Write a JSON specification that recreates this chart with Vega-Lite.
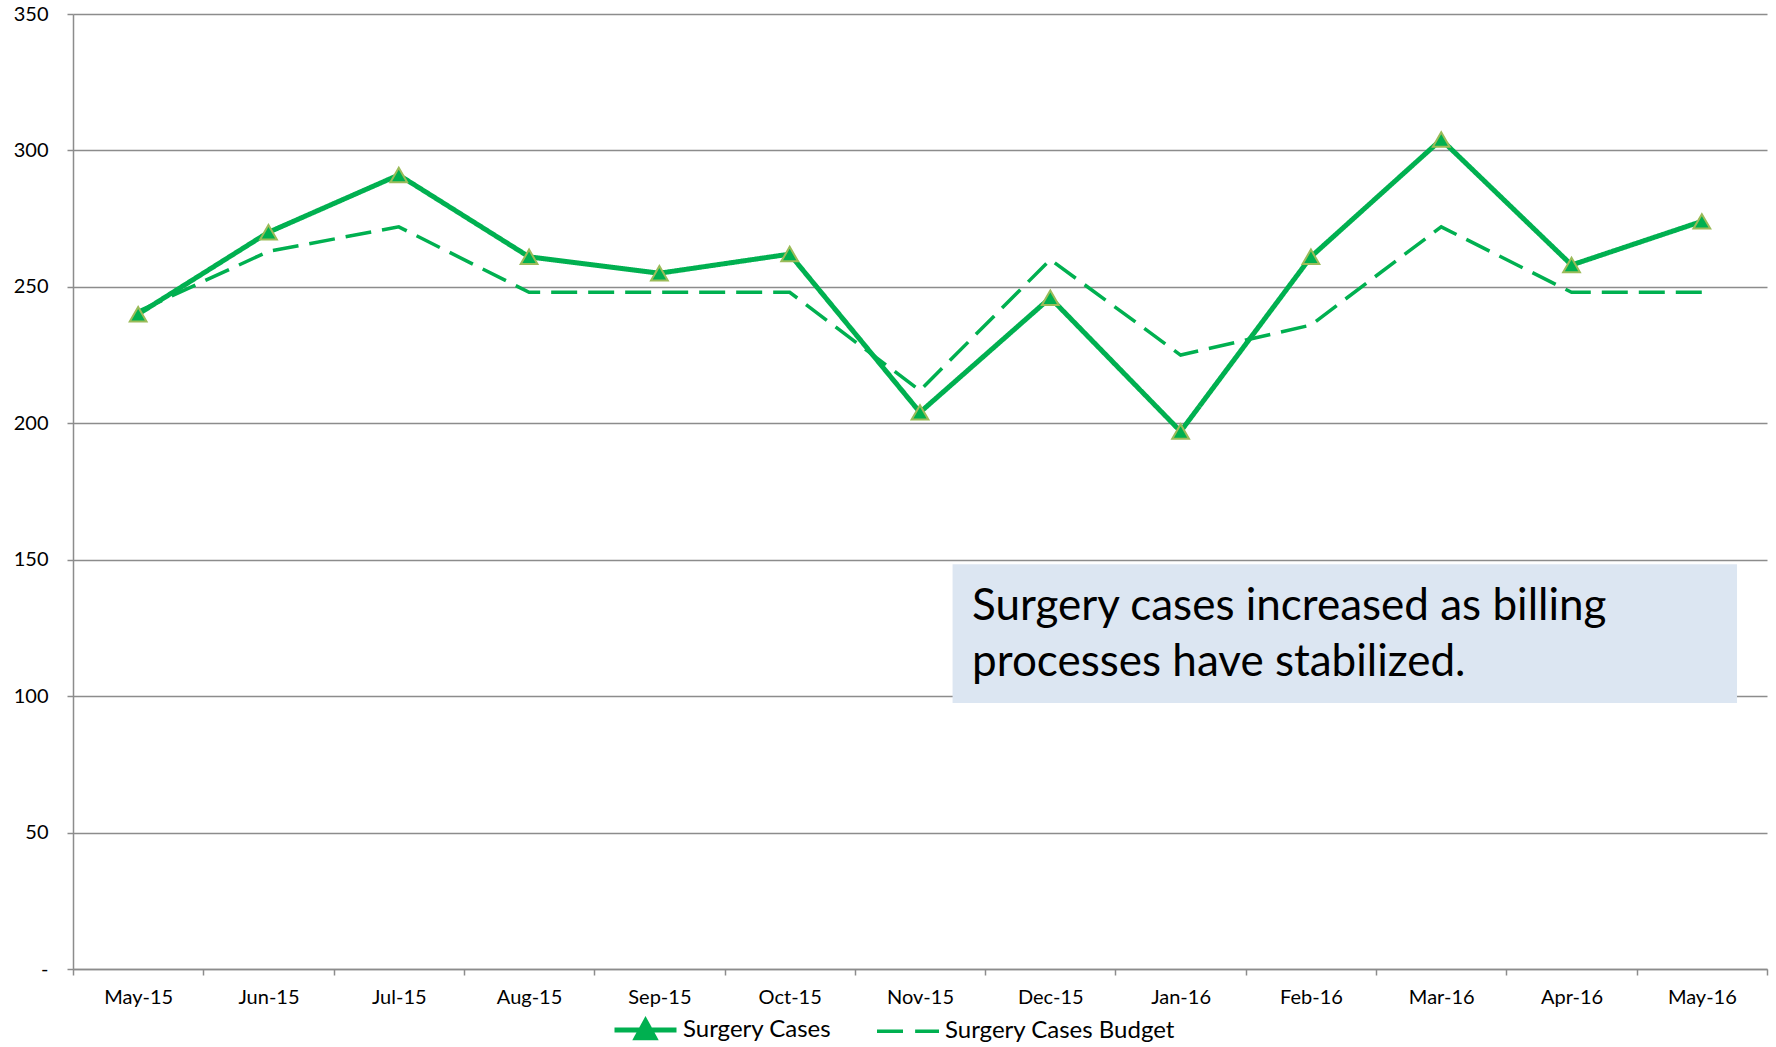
{
  "$schema": "https://vega.github.io/schema/vega-lite/v6.json",
  "width": 1694,
  "height": 955,
  "autosize": "none",
  "padding": {"left": 73, "top": 14, "right": 9, "bottom": 78},
  "background": "white",
  "config": {
    "view": {"stroke": null},
    "font": "Lato",
    "axis": {"labelFont": "Lato", "labelColor": "#000000", "domainColor": "#8c8c8c", "tickColor": "#8c8c8c", "gridColor": "#8c8c8c"}
  },
  "datasets": {
    "series": [
      {"month": "May-15", "series": "Surgery Cases", "value": 240},
      {"month": "Jun-15", "series": "Surgery Cases", "value": 270},
      {"month": "Jul-15", "series": "Surgery Cases", "value": 291},
      {"month": "Aug-15", "series": "Surgery Cases", "value": 261},
      {"month": "Sep-15", "series": "Surgery Cases", "value": 255},
      {"month": "Oct-15", "series": "Surgery Cases", "value": 262},
      {"month": "Nov-15", "series": "Surgery Cases", "value": 204},
      {"month": "Dec-15", "series": "Surgery Cases", "value": 246},
      {"month": "Jan-16", "series": "Surgery Cases", "value": 197},
      {"month": "Feb-16", "series": "Surgery Cases", "value": 261},
      {"month": "Mar-16", "series": "Surgery Cases", "value": 304},
      {"month": "Apr-16", "series": "Surgery Cases", "value": 258},
      {"month": "May-16", "series": "Surgery Cases", "value": 274},
      {"month": "May-15", "series": "Surgery Cases Budget", "value": 241},
      {"month": "Jun-15", "series": "Surgery Cases Budget", "value": 263},
      {"month": "Jul-15", "series": "Surgery Cases Budget", "value": 272},
      {"month": "Aug-15", "series": "Surgery Cases Budget", "value": 248},
      {"month": "Sep-15", "series": "Surgery Cases Budget", "value": 248},
      {"month": "Oct-15", "series": "Surgery Cases Budget", "value": 248},
      {"month": "Nov-15", "series": "Surgery Cases Budget", "value": 212},
      {"month": "Dec-15", "series": "Surgery Cases Budget", "value": 260},
      {"month": "Jan-16", "series": "Surgery Cases Budget", "value": 225},
      {"month": "Feb-16", "series": "Surgery Cases Budget", "value": 236},
      {"month": "Mar-16", "series": "Surgery Cases Budget", "value": 272},
      {"month": "Apr-16", "series": "Surgery Cases Budget", "value": 248},
      {"month": "May-16", "series": "Surgery Cases Budget", "value": 248}
    ],
    "box": [{"x1": 6.75, "x2": 12.77, "y1": 97.5, "y2": 148.3}],
    "note": [
      {"x": 6.9, "y": 127.9, "text": "Surgery cases increased as billing"},
      {"x": 6.9, "y": 107.4, "text": "processes have stabilized."}
    ]
  },
  "layer": [
    {
      "layer": [
        {
          "data": {"name": "series"},
          "mark": {"type": "line", "strokeCap": "butt", "strokeJoin": "miter"},
          "encoding": {
            "x": {
              "field": "month", "type": "nominal", "sort": null,
              "scale": {"domain": ["May-15","Jun-15","Jul-15","Aug-15","Sep-15","Oct-15","Nov-15","Dec-15","Jan-16","Feb-16","Mar-16","Apr-16","May-16"], "paddingInner": 0, "paddingOuter": 0},
              "axis": {"title": null, "labelAngle": 0, "labelFontSize": 20, "tickBand": "extent", "tickSize": 6, "tickWidth": 1.5, "domainWidth": 1.5, "labelPadding": 12, "grid": false}
            },
            "y": {
              "field": "value", "type": "quantitative",
              "scale": {"domain": [0, 350], "nice": false},
              "axis": {"title": null, "values": [0,50,100,150,200,250,300,350], "labelFontSize": 20, "tickSize": 6, "tickWidth": 1.5, "domainWidth": 1.5, "gridWidth": 1.5, "labelPadding": 19, "labelExpr": "datum.value == 0 ? '-\u00a0\u00a0\u00a0' : datum.label"}
            },
            "color": {
              "field": "series", "type": "nominal",
              "scale": {"domain": ["Surgery Cases", "Surgery Cases Budget"], "range": ["#00b050", "#00b050"]},
              "legend": {
                "title": null, "orient": "none", "direction": "horizontal",
                "legendX": 539, "legendY": 982,
                "labelFontSize": 24, "labelFont": "Lato", "labelColor": "#000000", "labelLimit": 0,
                "symbolSize": 3844, "symbolType": "stroke", "symbolStrokeWidth": 4,
                "labelOffset": 4, "columnPadding": 38,
                "encode": {
                  "symbols": {
                    "update": {
                      "shape": {"signal": "datum.value == 'Surgery Cases' ? 'M-1,0H1M-0.29,0.25L0,-0.28L0.29,0.25Z' : 'M0,-0.28M0,0.25M-1,0H-0.06M0.23,0H1'"},
                      "fill": {"signal": "datum.value == 'Surgery Cases' ? '#00b050' : 'transparent'"},
                      "strokeWidth": {"signal": "datum.value == 'Surgery Cases' ? 5 : 3.5"},
                      "strokeDash": {"value": [1, 0]}
                    }
                  }
                }
              }
            },
            "strokeDash": {
              "field": "series", "type": "nominal",
              "scale": {"domain": ["Surgery Cases", "Surgery Cases Budget"], "range": [[1, 0], [26, 11]]},
              "legend": null
            },
            "strokeWidth": {
              "field": "series", "type": "nominal",
              "scale": {"domain": ["Surgery Cases", "Surgery Cases Budget"], "range": [5, 3.5]},
              "legend": null
            }
          }
        },
        {
          "data": {"name": "series"},
          "transform": [{"filter": "datum.series == 'Surgery Cases'"}],
          "mark": {"type": "point", "shape": "triangle-up", "filled": true, "fill": "#00b050", "stroke": "#9bbb59", "strokeWidth": 2, "size": 280, "opacity": 1},
          "encoding": {
            "x": {"field": "month", "type": "nominal", "sort": null},
            "y": {"field": "value", "type": "quantitative"}
          }
        }
      ]
    },
    {
      "layer": [
        {
          "data": {"name": "box"},
          "mark": {"type": "rect", "color": "#dce6f2"},
          "encoding": {
            "x": {"field": "x1", "type": "quantitative", "scale": {"domain": [0, 13], "nice": false, "zero": false}, "axis": null},
            "x2": {"field": "x2"},
            "y": {"field": "y1", "type": "quantitative"},
            "y2": {"field": "y2"}
          }
        },
        {
          "data": {"name": "note"},
          "mark": {"type": "text", "align": "left", "baseline": "alphabetic", "font": "Lato", "fontSize": 44, "color": "#000000"},
          "encoding": {
            "x": {"field": "x", "type": "quantitative", "scale": {"domain": [0, 13], "nice": false, "zero": false}, "axis": null},
            "y": {"field": "y", "type": "quantitative"},
            "text": {"field": "text"}
          }
        }
      ]
    }
  ],
  "resolve": {"scale": {"x": "independent"}}
}
